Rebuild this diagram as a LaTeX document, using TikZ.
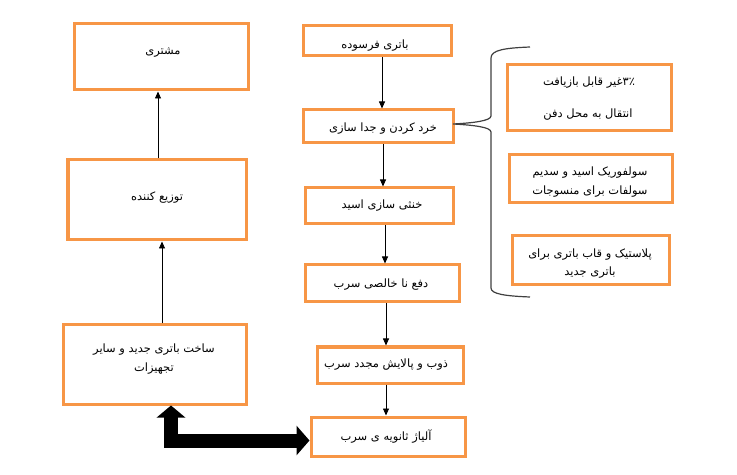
\documentclass[tikz,border=0pt]{standalone}
\usepackage{fontspec}
\usetikzlibrary{arrows.meta}
\TeXXeTstate=1
\newfontfamily\fa[Script=Arabic]{DejaVu Sans}
\definecolor{boxorange}{HTML}{F79646}
\newcommand{\fat}[1]{\beginR #1\endR}
\begin{document}
\begin{tikzpicture}[x=1bp,y=-1bp,
  box/.style={draw=boxorange, line width=3bp, rectangle, inner sep=0pt, fill=white},
  lbl/.style={inner sep=0pt, yshift=-2.5bp, font=\fa\fontsize{11.5}{13}\selectfont},
  arr/.style={-{Triangle[length=7bp,width=6bp]}, line width=0.8bp, black},
  big/.style={line width=14bp, line join=miter, {Triangle[length=12bp 0 0,width=28bp 0 0]}-{Triangle[length=13bp 0 0,width=29bp 0 0]}},
  bracestyle/.style={draw=black!75, line width=1.2bp}]
\useasboundingbox (0,0) rectangle (737,475);
% left column
\node[box,minimum width=174bp,minimum height=66bp] (moshtari) at (161,57) {};
\node[box,minimum width=178bp,minimum height=80bp] (tozi) at (157,200) {};
\node[box,minimum width=182bp,minimum height=79bp] (sakht) at (155,364.5) {};
% middle column
\node[box,minimum width=148bp,minimum height=30bp] (farsude) at (377,41) {};
\node[box,minimum width=150bp,minimum height=33bp] (khord) at (378,126.5) {};
\node[box,minimum width=148bp,minimum height=36bp] (khonsa) at (379,206) {};
\node[box,minimum width=154bp,minimum height=37bp] (dafe) at (382,283.5) {};
\node[box,minimum width=146bp,minimum height=36bp] (zob) at (390,365) {};
\node[box,minimum width=154bp,minimum height=39bp] (aliaj) at (388,436.5) {};
% right column
\node[box,minimum width=164bp,minimum height=66bp] (r1) at (589,98) {};
\node[box,minimum width=163bp,minimum height=48bp] (r2) at (590.5,179) {};
\node[box,minimum width=157bp,minimum height=49bp] (r3) at (590.5,260.5) {};
% texts
\node[lbl] (tmoshtari) at (163,50) {\fat{مشتری}};
\node[lbl] (ttozi) at (157,195) {\fat{توزیع کننده}};
\node[lbl] (tsakht1) at (154,347) {\fat{ساخت باتری جدید و سایر}};
\node[lbl] (tsakht2) at (154,366) {\fat{تجهیزات}};
\node[lbl] (tfarsude) at (375,43) {\fat{باتری فرسوده}};
\node[lbl] (tkhord) at (383,126) {\fat{خرد کردن و جدا سازی}};
\node[lbl] (tkhonsa) at (382,203) {\fat{خنثی سازی اسید}};
\node[lbl] (tdafe) at (381,282) {\fat{دفع نا خالصی سرب}};
\node[lbl] (tzob) at (386,362) {\fat{ذوب و پالایش مجدد سرب}};
\node[lbl] (taliaj) at (386,434) {\fat{آلیاژ ثانویه ی سرب}};
\node[lbl] (tr1a) at (589,80) {\fat{۳٪غیر قابل بازیافت}};
\node[lbl] (tr1b) at (588,112) {\fat{انتقال به محل دفن}};
\node[lbl] (tr2a) at (590,170) {\fat{سولفوریک اسید و سدیم}};
\node[lbl] (tr2b) at (590,189) {\fat{سولفات برای منسوجات}};
\node[lbl] (tr3a) at (590,252) {\fat{پلاستیک و قاب باتری برای}};
\node[lbl] (tr3b) at (590,270) {\fat{باتری جدید}};
% arrows
\coordinate (xa) at (158,0);
\coordinate (xb) at (162,0);
\coordinate (x1) at (382,0);
\coordinate (x2) at (383,0);
\coordinate (x3) at (385,0);
\coordinate (x4) at (386,0);
\draw[arr] (tozi.north -| xa) -- (moshtari.south -| xa);
\draw[arr] (sakht.north -| xb) -- (tozi.south -| xb);
\draw[arr] (farsude.south -| x1) -- (khord.north -| x1);
\draw[arr] (khord.south -| x2) -- (khonsa.north -| x2);
\draw[arr] (khonsa.south -| x3) -- (dafe.north -| x3);
\draw[arr] (dafe.south -| x4) -- (zob.north -| x4);
\draw[arr] (zob.south -| x4) -- (aliaj.north -| x4);
% big double arrow
\coordinate (bx) at (171,0);
\coordinate (by) at (0,440.5);
\draw[big] (sakht.south -| bx) |- (aliaj.west |- by);
% brace
\draw[bracestyle] (530,47) .. controls (505,48) and (491,50) .. (491,58) -- (491,116)
  .. controls (491,121) and (472,123) .. (453,124)
  .. controls (472,125) and (491,127) .. (491,132) -- (491,288)
  .. controls (491,294) and (505,296) .. (530,297);
\end{tikzpicture}
\end{document}
